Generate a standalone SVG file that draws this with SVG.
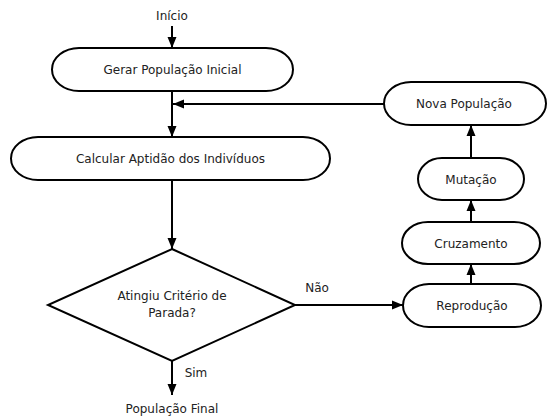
<svg xmlns="http://www.w3.org/2000/svg" width="547" height="417" viewBox="0 0 547 417">
<defs>
<marker id="ah" markerUnits="userSpaceOnUse" markerWidth="12" markerHeight="12" viewBox="0 0 12 12" refX="11" refY="6" orient="auto">
<path d="M0,1.5 L11,6 L0,10.5 Z" fill="#000"/>
</marker>
<style>
.n{fill:#fff;stroke:#000;stroke-width:2}
.t{font-family:"DejaVu Sans",sans-serif;font-size:12px;fill:#222;text-anchor:middle}
.c{fill:none;stroke:#000;stroke-width:2}
.a{marker-end:url(#ah)}
</style>
</defs>
<rect width="547" height="417" fill="#fff"/>
<g id="connectors">
<line class="c a" x1="172" y1="26" x2="172" y2="48"/>
<line class="c a" x1="172" y1="91" x2="172" y2="137"/>
<line class="c a" x1="384" y1="104" x2="173" y2="104"/>
<line class="c a" x1="172" y1="180" x2="172" y2="249"/>
<line class="c a" x1="295" y1="305" x2="403" y2="305"/>
<line class="c a" x1="471" y1="284" x2="471" y2="264"/>
<line class="c a" x1="471" y1="222" x2="471" y2="200"/>
<line class="c a" x1="471" y1="158" x2="471" y2="125"/>
<line class="c a" x1="172" y1="361" x2="172" y2="395"/>
<text class="t" x="317" y="292">Não</text>
<text class="t" x="196" y="377">Sim</text>
</g>
<g id="inicio"><text class="t" x="172" y="20">Início</text></g>
<g id="gerar"><rect class="n" x="52" y="48" width="241" height="43" rx="27" ry="21.5"/><text class="t" x="172.5" y="74">Gerar População Inicial</text></g>
<g id="calcular"><rect class="n" x="11" y="137" width="319" height="43" rx="27" ry="21.5"/><text class="t" x="170.5" y="163">Calcular Aptidão dos Indivíduos</text></g>
<g id="criterio"><polygon class="n" points="172,249 295,305 172,361 48,305"/><text class="t" x="172" y="300">Atingiu Critério de</text><text class="t" x="172" y="317">Parada?</text></g>
<g id="final"><text class="t" x="172" y="413">População Final</text></g>
<g id="nova"><rect class="n" x="384" y="82" width="162" height="43" rx="27" ry="21.5"/><text class="t" x="464" y="108">Nova População</text></g>
<g id="mutacao"><rect class="n" x="418" y="158" width="106" height="42" rx="24" ry="21"/><text class="t" x="471" y="183.5">Mutação</text></g>
<g id="cruzamento"><rect class="n" x="402" y="222" width="138" height="42" rx="26" ry="21"/><text class="t" x="471" y="247.5">Cruzamento</text></g>
<g id="reproducao"><rect class="n" x="403" y="284" width="138" height="43" rx="26" ry="21.5"/><text class="t" x="472" y="310">Reprodução</text></g>
</svg>
